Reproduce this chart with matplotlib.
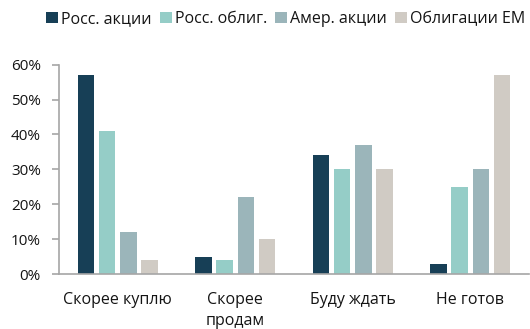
import matplotlib
matplotlib.use("Agg")
import matplotlib.pyplot as plt
import numpy as np
from matplotlib.ticker import PercentFormatter

plt.rcParams['font.family'] = ['Open Sans', 'DejaVu Sans']

categories = ["Скорее куплю", "Скорее\nпродам", "Буду ждать", "Не готов"]
series_names = ["Росс. акции", "Росс. облиг.", "Амер. акции", "Облигации EM"]
ross_akcii = [57, 5, 34, 3]
ross_oblig = [41, 4, 30, 25]
amer_akcii = [12, 22, 37, 30]
oblig_em = [4, 10, 30, 57]

colors = ["#173f56", "#95cdc7", "#9bb5ba", "#d0cbc4"]
text_color = "#141414"
axis_color = "#a6a6a6"

fig = plt.figure(figsize=(5.30, 3.29), dpi=100)
ax = fig.add_axes([59 / 530, (329 - 274) / 329, 470 / 530, (274 - 64.7) / 329])

x = np.arange(len(categories))
step = 0.181
width = 0.142
for i, (vals, name, c) in enumerate(zip([ross_akcii, ross_oblig, amer_akcii, oblig_em],
                                         series_names, colors)):
    ax.bar(x + (i - 1.5) * step, vals, width=width, color=c, label=name, zorder=2)

ax.set_xlim(-0.5, 3.5)
ax.set_ylim(0, 60)
ax.set_yticks(np.arange(0, 61, 10))
ax.yaxis.set_major_formatter(PercentFormatter(decimals=0))
ax.set_xticks(x)
ax.set_xticklabels(categories, linespacing=1.4)

for side in ("top", "right"):
    ax.spines[side].set_visible(False)
for side in ("left", "bottom"):
    ax.spines[side].set_color(axis_color)
    ax.spines[side].set_linewidth(1.2)
ax.spines["bottom"].set_zorder(3)

ax.tick_params(axis="y", length=5, width=1.2, color=axis_color, labelsize=11,
               labelcolor=text_color, pad=8)
ax.tick_params(axis="x", length=0, labelsize=11.5, labelcolor=text_color, pad=13)

leg = fig.legend(loc="upper left", bbox_to_anchor=(46 / 530, 1 - 11 / 329), ncol=4,
                 frameon=False, fontsize=11.5, handlelength=0.75, handleheight=0.75,
                 handletextpad=0.2, columnspacing=0.5, borderaxespad=0, borderpad=0)
for t in leg.get_texts():
    t.set_color(text_color)

fig.savefig("out.png", dpi=100)
